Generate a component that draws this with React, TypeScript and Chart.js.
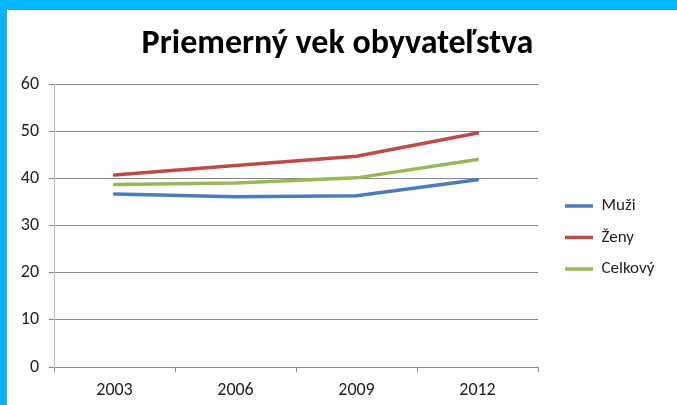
import React, { useEffect, useRef } from "react";
import { Chart, registerables } from "chart.js";

Chart.register(...registerables);

const title = "Priemerný vek obyvateľstva";
const years = ["2003", "2006", "2009", "2012"];
const muzi = [36.7, 36.1, 36.3, 39.7];
const zeny = [40.7, 42.7, 44.7, 49.6];
const celkovy = [38.7, 39.0, 40.1, 44.0];
const seriesNames = ["Muži", "Ženy", "Celkový"];
const seriesColors = ["#4A7EBB", "#BE4B48", "#98B954"];

const FONT = "Carlito, Calibri, Lato, 'Open Sans', sans-serif";

export default function App() {
  const ref = useRef<HTMLCanvasElement | null>(null);

  useEffect(() => {
    document.body.style.margin = "0";
    const ctx = ref.current!.getContext("2d")!;
    const values = [muzi, zeny, celkovy];
    const chart = new Chart(ctx, {
      type: "line",
      data: {
        labels: years,
        datasets: values.map((v, i) => ({
          label: seriesNames[i],
          data: v,
          borderColor: seriesColors[i],
          backgroundColor: seriesColors[i],
          borderWidth: 3.5,
          pointRadius: 0,
          pointHoverRadius: 0,
          tension: 0,
          fill: false,
          borderCapStyle: "round" as const,
        })),
      },
      options: {
        responsive: false,
        animation: false,
        layout: { padding: { left: 18, top: 10, right: 20, bottom: 5 } },
        plugins: {
          title: {
            display: true,
            text: title,
            color: "#000",
            font: { family: FONT, size: 34, weight: "bold" },
            padding: { top: 14.2, bottom: 19 },
          },
          legend: {
            position: "right",
            title: {
              display: true,
              text: "",
              font: { size: 10 },
              padding: { top: 53, bottom: 0 },
            },
            labels: {
              usePointStyle: true,
              pointStyle: "line",
              pointStyleWidth: 28,
              boxHeight: 17,
              padding: 14.5,
              color: "#222",
              font: { family: FONT, size: 17 },
            },
          },
          tooltip: { enabled: false },
        },
        scales: {
          x: {
            offset: true,
            afterFit: (s: any) => {
              s.height = 33;
            },
            grid: {
              display: true,
              offset: true,
              drawOnChartArea: false,
              drawTicks: true,
              tickLength: 5,
              color: "#868686",
            },
            border: { display: true, color: "#868686", width: 1 },
            ticks: {
              color: "#222",
              padding: 8,
              font: { family: FONT, size: 18 },
              maxRotation: 0,
            },
          },
          y: {
            min: 0,
            max: 60,
            afterFit: (s: any) => {
              s.width = 36;
            },
            grid: {
              color: "#868686",
              tickLength: 5,
              drawTicks: true,
            },
            border: { display: true, color: "#BFBFBF", width: 1 },
            ticks: {
              stepSize: 10,
              color: "#222",
              padding: 10,
              font: { family: FONT, size: 18 },
            },
          },
          y2: {
            position: "right",
            min: 0,
            max: 60,
            display: true,
            afterFit: (s: any) => {
              s.width = 12.5;
            },
            grid: { display: false, drawTicks: false },
            border: { display: false },
            ticks: { display: false },
          },
        },
      },
    });
    return () => chart.destroy();
  }, []);

  return (
    <div style={{ position: "fixed", left: 0, top: 0, width: 677, height: 405, background: "#00B7FF", overflow: "hidden" }}>
      <div
        style={{
          position: "absolute",
          left: 6,
          top: 9,
          right: 0,
          bottom: 0,
          background: "#fff",
          borderLeft: "1.5px solid #8c8c8c",
          borderTop: "1.5px solid #8c8c8c",
        }}
      />
      <canvas ref={ref} width={677} height={405} style={{ position: "absolute", left: 0, top: 0 }} />
    </div>
  );
}
